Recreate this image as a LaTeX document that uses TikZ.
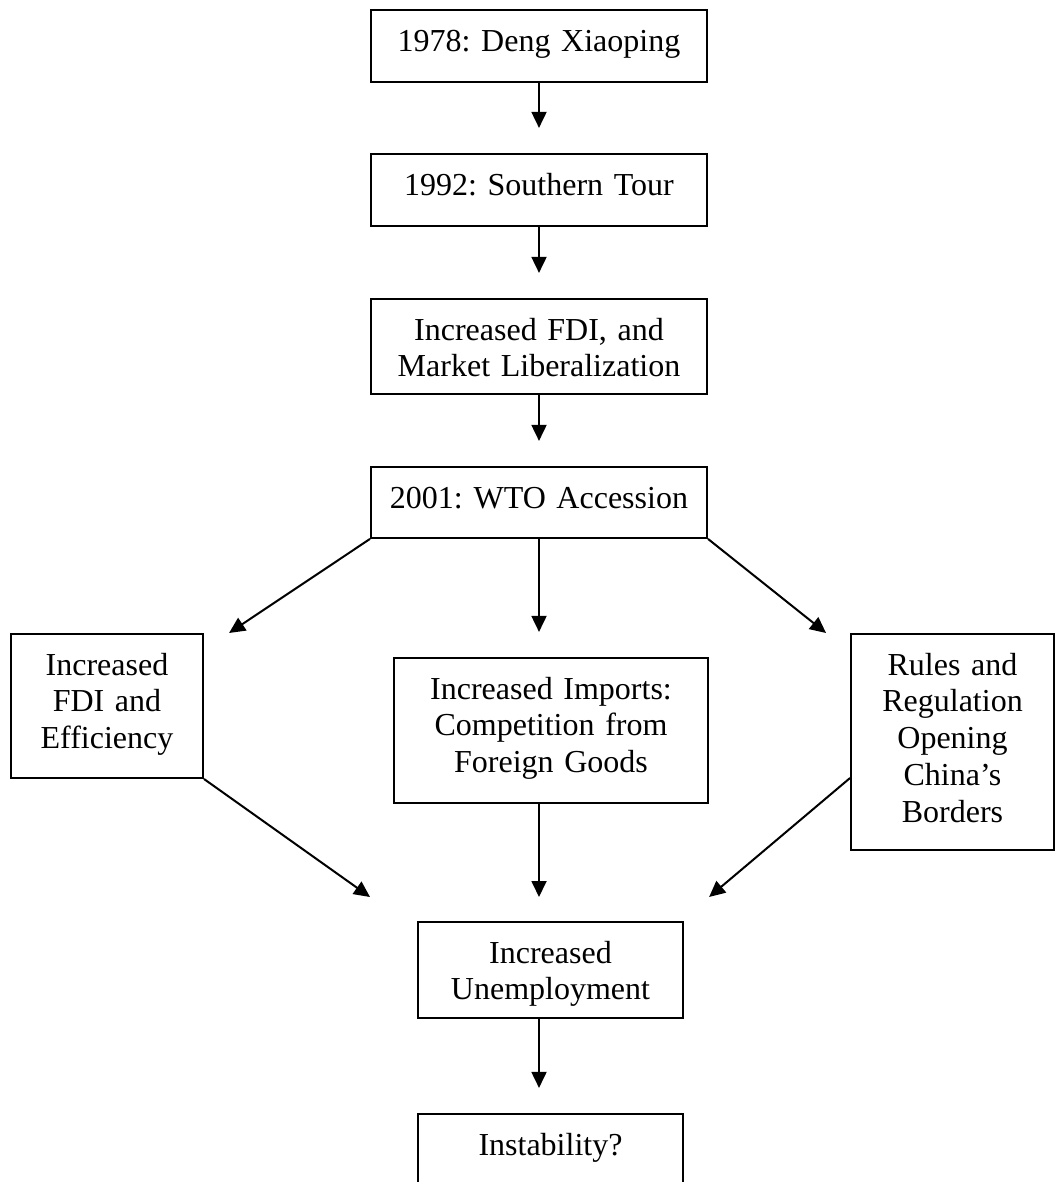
\documentclass[tikz,border=0pt]{standalone}
\usepackage{fontspec}
\setmainfont{Liberation Serif}
\usepackage{tikz}
\usetikzlibrary{arrows.meta}
\frenchspacing

\begin{document}
\begin{tikzpicture}[x=0.375pt,y=-0.375pt,
  box/.style={draw, line width=0.75pt, anchor=north, align=center,
    inner xsep=0pt, inner ysep=7.5pt, text height=7.9pt,
    font=\fontsize{12pt}{13.8pt}\selectfont\frenchspacing},
  flow/.style={line width=0.75pt, -{Triangle[length=6pt,width=5.6pt]}}]
  \useasboundingbox (0,0) rectangle (1055,1182);
  \clip (0,0) rectangle (1055,1182);
  \node[box, text width=126pt, text depth=4.1pt] (deng) at (539,9) {1978: Deng Xiaoping};
  \node[box, text width=126pt, text depth=4.1pt] (tour) at (539,153) {1992: Southern Tour};
  \node[box, text width=126pt, text depth=12.7pt] (liberal) at (539,298) {Increased FDI, and\\Market Liberalization};
  \node[box, text width=126pt, text depth=3.7pt] (wto) at (539,466) {2001: WTO Accession};
  \node[box, text width=72pt, text depth=31.1pt] (fdi) at (107,633) {Increased\\FDI and\\Efficiency};
  \node[box, text width=117.75pt, text depth=31.5pt] (imports) at (551,657) {Increased Imports:\\Competition from\\Foreign Goods};
  \node[box, text width=76.1pt, text depth=58.1pt] (rules) at (952.5,633) {Rules and\\Regulation\\Opening\\China’s\\Borders};
  \node[box, text width=99.4pt, text depth=13.1pt] (unemp) at (550.5,921) {Increased\\Unemployment};
  \node[box, text width=99.4pt, text depth=13.1pt] (instab) at (550.5,1113) {Instability?};
  \draw[flow, shorten >=9.4pt] (deng) -- (tour);
  \draw[flow, shorten >=9.4pt] (tour) -- (liberal);
  \draw[flow, shorten >=9.4pt] (liberal) -- (wto);
  \draw[flow] (wto.south west) -- ([xshift=9.4pt]fdi.north east);
  \draw[flow, shorten >=9.4pt] (wto.south) -- (imports.north -| wto.south);
  \draw[flow] (wto.south east) -- ([xshift=-9pt]rules.north west);
  \draw[flow] (fdi.south east) -- ([xshift=-17.6pt,yshift=9pt]unemp.north west);
  \draw[flow, shorten >=9pt] (imports.south -| wto.south) -- (unemp.north -| wto.south);
  \draw[flow] ([yshift=-13.5pt]rules.west) -- ([xshift=9.4pt,yshift=9pt]unemp.north east);
  \draw[flow, shorten >=9.4pt] (unemp.south -| deng.south) -- (instab.north -| deng.south);
\end{tikzpicture}
\end{document}
